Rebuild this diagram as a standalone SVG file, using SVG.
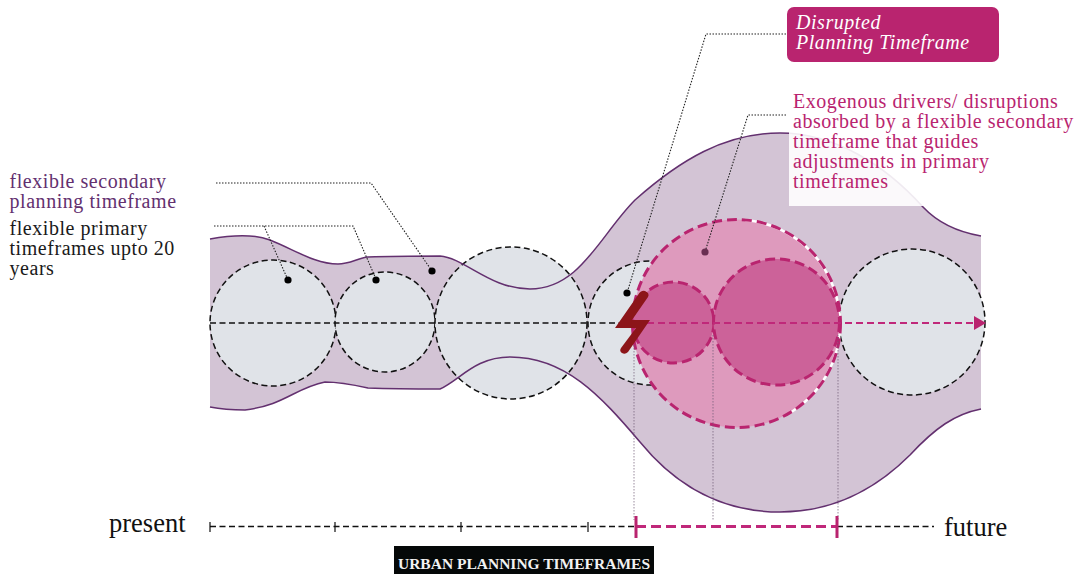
<svg xmlns="http://www.w3.org/2000/svg" width="1077" height="574" viewBox="0 0 1077 574">
<style>
text{font-family:"Liberation Serif","Times New Roman",serif}
.t{font-size:20px;letter-spacing:.55px}
.blk{fill:#1a1a1a}
.pur{fill:#63306f}
.pnk{fill:#b9246f}
.grey{fill:#e0e3e8;stroke:#111;stroke-width:1.5;stroke-dasharray:6 3.5}
.pc{stroke:#b9246f;stroke-width:3;stroke-dasharray:10 5}
.lead{fill:none;stroke:#222;stroke-width:1.1;stroke-dasharray:1.5 1.5}
.drop{fill:none;stroke:#6e5a72;stroke-width:.7;stroke-dasharray:1.5 1.5}
.dash{fill:none;stroke:#111;stroke-width:1.4;stroke-dasharray:6 3.5}
.pdash{fill:none;stroke:#c0287a;stroke-width:1.8;stroke-dasharray:7 4}
.tick{stroke:#111;stroke-width:1.2}
.ptick{stroke:#b9246f;stroke-width:3}
.edge{fill:none;stroke:#63306f;stroke-width:1.5}
</style>
<defs><marker id="arr" markerWidth="12" markerHeight="14" refX="11" refY="7" orient="auto" markerUnits="userSpaceOnUse"><path d="M0 0L12 7L0 14Z" fill="#b9246f"/></marker></defs>

<g id="secondary-timeframe">
<path d="M210 239C232 235 254 234 270 240C295 250 315 264 338 264C350 264 358 258 368 257C395 256 415 256 440 256C465 258 490 289 530 289C580 289 600 235 635 200C680 160 725 133 780 133C835 133 885 165 923 207C938 223 958 232 981 236L981 409C955 414 935 428 910 455C870 495 825 512 780 512C720 512 675 485 640 442C600 395 565 357 510 357C475 357 460 380 440 389C415 389 395 389 368 388C350 384 340 382 325 382C295 388 285 405 245 410C232 410 220 409 210 407Z" fill="#d3c4d5"/>
</g>

<g id="primary-1"><circle class="grey" cx="273" cy="323" r="63"/></g>
<g id="primary-2"><circle class="grey" cx="385" cy="322" r="50"/></g>
<g id="primary-3"><circle class="grey" cx="511" cy="323" r="76"/></g>
<g id="primary-4"><circle class="grey" cx="650" cy="323" r="62"/></g>
<g id="primary-5"><circle class="grey" cx="912" cy="322" r="73"/></g>
<g id="secondary-edges">
<path class="edge" d="M210 239C232 235 254 234 270 240C295 250 315 264 338 264C350 264 358 258 368 257C395 256 415 256 440 256C465 258 490 289 530 289C580 289 600 235 635 200C680 160 725 133 780 133C835 133 885 165 923 207C938 223 958 232 981 236"/>
<path class="edge" d="M981 409C955 414 935 428 910 455C870 495 825 512 780 512C720 512 675 485 640 442C600 395 565 357 510 357C475 357 460 380 440 389C415 389 395 389 368 388C350 384 340 382 325 382C295 388 285 405 245 410C232 410 220 409 210 407"/>
</g>
<rect x="789" y="100" width="215" height="106" fill="#fff" fill-opacity=".9"/>
<g id="disrupted-outer"><circle cx="736.500" cy="323.500" r="104" fill="#de9abd"/><path d="M745 220A104 104 0 0 1 840 323M840 323A104 104 0 0 1 790 413" fill="none" stroke="#fff" stroke-width="2.500"/><circle class="pc" cx="736.500" cy="323.500" r="104" fill="none"/></g>
<g id="disrupted-small"><circle class="pc" cx="673.500" cy="322.500" r="40.500" fill="#cc6299"/></g>
<g id="disrupted-medium"><circle class="pc" cx="776.500" cy="322" r="63" fill="#cc6299"/></g>

<g id="connectors">
<path class="dash" d="M210 323H636"/>
<path class="pdash" d="M636 323H985" marker-end="url(#arr)"/>
<path class="lead" d="M216 183H371L432 271"/>
<path class="lead" d="M214 226H353L376 279"/>
<path class="lead" d="M264 226L288 280"/>
<path class="lead" d="M786 34H706L627 293"/>
<path class="lead" d="M786 115H748L705 252"/>
<path class="drop" d="M634 345V520M713 335V520M838 335V520"/>
<circle cx="288" cy="280" r="3.600" fill="#000"/>
<circle cx="376" cy="280" r="3.600" fill="#000"/>
<circle cx="432" cy="271" r="3.600" fill="#000"/>
<circle cx="627" cy="293" r="3.600" fill="#000"/>
<circle cx="705" cy="252" r="3.600" fill="#6a2e52"/>
</g>

<g id="lightning"><path d="M638 295Q641 290 645 291Q650 293 648 297L632 320H650L628 352Q625 355 622 353Q619 351 621 348L636 328H615Z" fill="#8c1519"/></g>

<g id="timeline">
<path class="dash" d="M210 526.500H636M837 526.500H934"/>
<path class="pdash" style="stroke-width:3;stroke-dasharray:10 5" d="M636 526.500H837"/>
<path class="tick" d="M210 522V532M335 522V532M461 522V532M588 522V532"/>
<path class="ptick" d="M636 516V538M837 516V538"/>
</g>

<g id="label-secondary"><text class="t pur" x="9.500" y="188">flexible secondary</text><text class="t pur" x="9.500" y="208">planning timeframe</text></g>
<g id="label-primary"><text class="t blk" x="9.500" y="235">flexible primary</text><text class="t blk" x="9.500" y="255">timeframes upto 20</text><text class="t blk" x="9.500" y="275">years</text></g>
<g id="label-disrupted"><rect x="787" y="7" width="212" height="55" rx="7" fill="#b9246f"/><text class="t" x="796" y="29" fill="#fff" font-style="italic">Disrupted</text><text class="t" x="796" y="49" fill="#fff" font-style="italic">Planning Timeframe</text></g>
<g id="label-exogenous"><text class="t pnk" x="793" y="108">Exogenous drivers/ disruptions</text><text class="t pnk" x="793" y="128">absorbed by a flexible secondary</text><text class="t pnk" x="793" y="148">timeframe that guides</text><text class="t pnk" x="793" y="168">adjustments in primary</text><text class="t pnk" x="793" y="188">timeframes</text></g>
<g id="label-present"><text x="109" y="532" font-size="26.500" fill="#111">present</text></g>
<g id="label-future"><text x="944" y="536" font-size="26.500" fill="#111">future</text></g>
<g id="title"><rect x="394" y="546" width="260" height="28" fill="#050808"/><text x="524" y="569" font-size="15.500" font-weight="bold" fill="#f2f2f2" text-anchor="middle">URBAN PLANNING TIMEFRAMES</text></g>
</svg>
